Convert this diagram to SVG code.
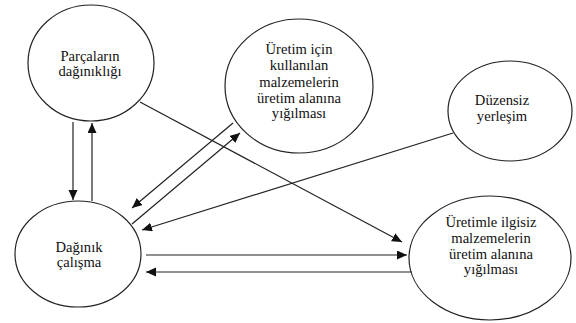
<svg xmlns="http://www.w3.org/2000/svg" width="576" height="323" viewBox="0 0 576 323">
<style>
.n ellipse{fill:#fff;stroke:#222;stroke-width:1.2}
.n text{fill:#111;text-anchor:middle}
.c line{stroke:#222;stroke-width:1.2;fill:none}
.a{marker-end:url(#ah)}
</style>
<defs>
<marker id="ah" markerUnits="userSpaceOnUse" markerWidth="11" markerHeight="10" refX="10" refY="4.5" orient="auto">
<path d="M0,0 L10,4.5 L0,9 Z" fill="#111"/>
</marker>
</defs>
<rect width="576" height="323" fill="#fff"/>
<g font-family="Liberation Serif" font-size="14.6">
<g class="n" id="parcalar">
<ellipse cx="91" cy="63" rx="63" ry="58"/>
<text x="90" y="61">Parçaların</text>
<text x="90" y="76">dağınıklığı</text>
</g>
<g class="n" id="uretim-icin">
<ellipse cx="299" cy="86" rx="74" ry="67"/>
<text x="299" y="54">Üretim için</text>
<text x="299" y="70">kullanılan</text>
<text x="299" y="87">malzemelerin</text>
<text x="299" y="103">üretim alanına</text>
<text x="299" y="118">yığılması</text>
</g>
<g class="n" id="duzensiz">
<ellipse cx="510" cy="111" rx="62" ry="50"/>
<text x="502" y="105">Düzensiz</text>
<text x="502" y="121">yerleşim</text>
</g>
<g class="n" id="daginik">
<ellipse cx="78" cy="254" rx="63" ry="53"/>
<text x="79" y="252">Dağınık</text>
<text x="79" y="267">çalışma</text>
</g>
<g class="n" id="ilgisiz">
<ellipse cx="490" cy="258" rx="81" ry="62"/>
<text x="491" y="227">Üretimle ilgisiz</text>
<text x="491" y="243">malzemelerin</text>
<text x="491" y="259">üretim alanına</text>
<text x="491" y="274">yığılması</text>
</g>
</g>
<g class="c" id="connectors">
<line class="a" x1="73" y1="122" x2="73" y2="200"/>
<line class="a" x1="92" y1="201" x2="92" y2="123"/>
<line class="a" x1="140" y1="102" x2="402" y2="242"/>
<line class="a" x1="233" y1="123" x2="132" y2="208"/>
<line class="a" x1="132" y1="224" x2="240" y2="133"/>
<line class="a" x1="453" y1="133" x2="142" y2="230"/>
<line class="a" x1="146" y1="255" x2="407" y2="255"/>
<line class="a" x1="412" y1="272" x2="146" y2="272"/>
</g>
</svg>
